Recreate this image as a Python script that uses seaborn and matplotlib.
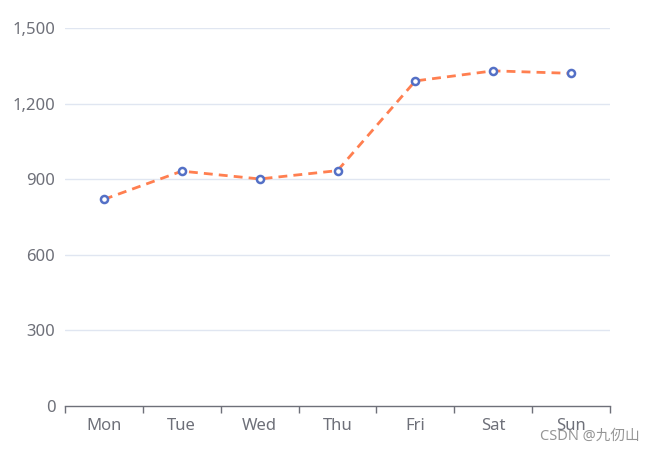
import matplotlib
matplotlib.use("Agg")
import matplotlib.pyplot as plt
import seaborn as sns
import pandas as pd
from matplotlib.ticker import FuncFormatter, FixedLocator

days = ["Mon", "Tue", "Wed", "Thu", "Fri", "Sat", "Sun"]
values = [820, 932, 901, 934, 1290, 1330, 1320]
yticks = [0, 300, 600, 900, 1200, 1500]

sns.set_theme(style="white")
plt.rcParams['font.family'] = ['Noto Sans', 'Noto Sans CJK SC', 'DejaVu Sans']

df = pd.DataFrame({"day": days, "value": values, "x": range(len(days))})

fig = plt.figure(figsize=(6.52, 4.5), dpi=100)
ax = fig.add_axes([65/652, 44/450, 545/652, 378/450])

sns.lineplot(data=df, x="x", y="value", ax=ax, color="#FF7F50", linewidth=2,
             dashes=False, zorder=3)
ax.lines[0].set_dashes((3.2, 2.2))
sns.scatterplot(data=df, x="x", y="value", ax=ax, s=26, facecolor="white",
                edgecolor="#5470C6", linewidth=1.8, zorder=4)

ax.set_xlim(-0.5, len(days) - 0.5)
ax.set_ylim(0, 1500)
ax.set_yticks(yticks)
ax.yaxis.set_major_formatter(FuncFormatter(lambda v, p: f"{int(v):,}"))
ax.set_xticks(range(len(days)))
ax.set_xticklabels(days)
ax.xaxis.set_minor_locator(FixedLocator([i - 0.5 for i in range(len(days) + 1)]))
ax.tick_params(axis="x", which="major", bottom=False, length=0, pad=8.5, labelsize=12, labelcolor="#6E7079")
ax.tick_params(axis="x", which="minor", bottom=True, length=5, width=1, color="#6E7079", direction="out")
ax.tick_params(axis="y", length=0, pad=7, labelsize=12, labelcolor="#6E7079")

for v in yticks[1:]:
    ax.axhline(v, color="#E0E6F1", linewidth=1, zorder=1)

for s in ["top", "right", "left"]:
    ax.spines[s].set_visible(False)
ax.spines["bottom"].set_color("#6E7079")
ax.spines["bottom"].set_linewidth(1)
ax.set_xlabel("")
ax.set_ylabel("")

fig.text(0.981, 0.014, "CSDN @九仞山", ha="right", va="bottom", fontsize=10.5,
         color="#8a8a8a", alpha=0.9, family=['Noto Sans', 'Noto Sans CJK SC'])

fig.savefig("out.png", dpi=100)
